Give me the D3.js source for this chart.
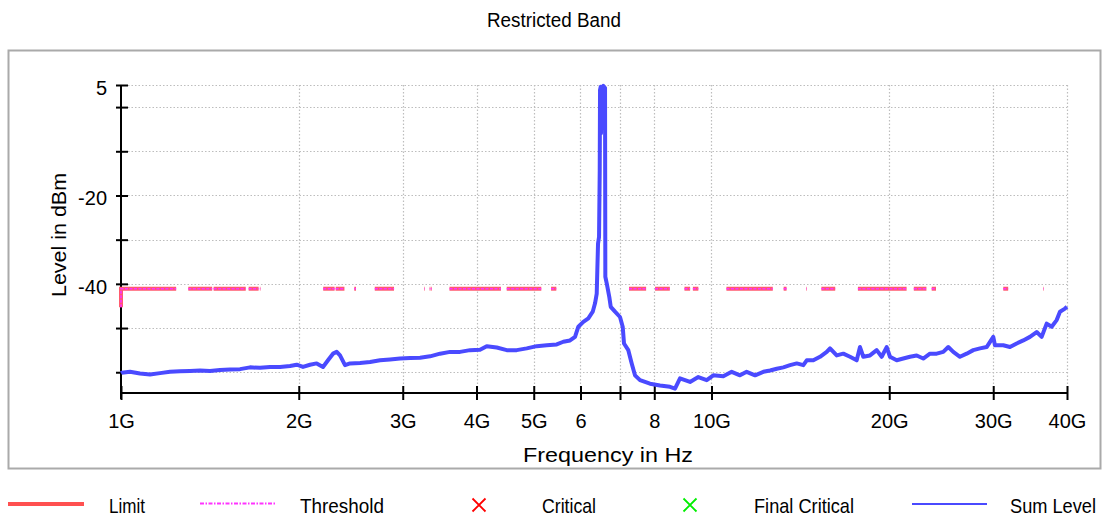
<!DOCTYPE html>
<html><head><meta charset="utf-8">
<script src="https://cdn.jsdelivr.net/npm/d3@7"></script>
<style>
body{margin:0;background:#fff;}
svg{display:block;font-family:"Liberation Sans",Arial,sans-serif;}
</style></head><body>
<svg id="chart" width="1107" height="519"></svg>
<script>
// ---- data (frequency in GHz, level in dBm) ----
const freqGHz = [1.000,1.003,1.0357,1.0769,1.1198,1.1643,1.2106,1.2586,1.3087,1.3608,1.4149,1.4712,1.5297,1.5906,1.6538,1.7196,1.7880,1.8591,1.9331,1.9841,2.0334,2.0896,2.1449,2.1983,2.2416,2.2858,2.3191,2.3491,2.3954,2.4426,2.5398,2.6408,2.7459,2.8551,2.9687,3.0867,3.2095,3.3371,3.4698,3.6078,3.7512,3.9004,4.0555,4.1628,4.3283,4.5004,4.6793,4.8654,5.0588,5.2600,5.4691,5.6115,5.7602,5.8736,5.9497,6.0668,6.1863,6.2934,6.3501,6.3923,6.4072,6.4247,6.4498,6.4675,6.4751,6.4927,6.5003,6.5181,6.5590,6.6026,6.6103,6.6465,6.7141,6.7508,6.8650,6.9995,7.0736,7.1095,7.2299,7.3262,7.4211,7.5673,7.8683,8.1812,8.5064,8.6740,8.8447,9.1964,9.4988,9.8153,10.071,10.471,10.820,11.176,11.471,11.852,12.242,12.566,12.898,13.234,13.584,13.944,14.306,14.497,14.875,15.269,15.673,15.876,16.296,16.720,17.162,17.616,17.844,18.075,18.553,19.044,19.419,19.802,20.058,20.589,21.126,21.684,22.257,22.837,23.442,24.063,24.690,25.176,25.672,26.351,27.049,27.754,28.488,29.242,30.005,30.204,31.198,32.023,32.871,33.727,34.619,35.537,36.237,36.951,37.679,38.421,38.918,39.686,40.0];
const sumLevel = [-60.2,-60.1,-59.9,-60.3,-60.5,-60.2,-59.9,-59.8,-59.7,-59.6,-59.7,-59.5,-59.4,-59.3,-58.9,-59.0,-58.8,-58.8,-58.6,-58.3,-58.8,-58.3,-58.0,-58.8,-57.3,-55.8,-55.4,-56.2,-58.4,-58.0,-57.9,-57.7,-57.3,-57.1,-56.9,-56.8,-56.7,-56.4,-55.8,-55.4,-55.4,-55.0,-54.9,-54.1,-54.4,-55.0,-55.0,-54.6,-54.1,-53.9,-53.7,-53.1,-52.8,-52.0,-49.7,-48.6,-47.8,-46.3,-44.4,-42.2,-36.9,-30.9,-29.4,-14.3,3.9,4.6,-5.9,4.3,4.8,4.3,-38.4,-39.9,-43.0,-45.2,-46.3,-47.5,-49.7,-53.5,-55.0,-58.0,-60.7,-61.8,-62.6,-63.0,-63.3,-63.7,-61.4,-62.2,-61.1,-61.8,-60.7,-60.9,-59.9,-60.7,-59.9,-60.7,-59.9,-59.6,-59.2,-58.9,-58.4,-58.0,-58.4,-57.3,-57.3,-56.5,-55.4,-54.6,-56.2,-55.8,-56.5,-57.3,-54.3,-56.5,-56.2,-55.0,-56.5,-54.3,-56.5,-57.3,-56.9,-56.5,-56.2,-56.9,-55.8,-55.8,-55.4,-54.3,-55.4,-56.5,-55.8,-55.0,-54.6,-54.3,-52.0,-53.9,-53.9,-54.3,-53.5,-52.8,-52.0,-50.9,-52.0,-49.0,-49.7,-48.2,-46.3,-45.6,-45.2];
const bandStart = [1.0,1.3,1.435,1.645,1.7188,2.2,2.31,2.4835,2.69,3.26,3.332,3.3458,3.6,4.5,5.35,7.25,8.025,9.0,9.3,10.6,13.25,14.47,15.35,17.7,22.01,23.6,31.2,36.43];
const bandStop  = [1.24,1.427,1.6265,1.71,1.7222,2.3,2.39,2.5,2.9,3.267,3.339,3.358,4.4,5.15,5.46,7.75,8.5,9.2,9.5,12.7,13.4,14.5,16.2,21.4,23.12,24.0,31.8,36.5];
const limitLevel = -41.1;
const limitEntryLevel = -45.3;
const thresholdLevel = -41.1;
const xTickValues = [1,2,3,4,5,6,7,8,10,20,30,40];
const xTickLabels = ["1G","2G","3G","4G","5G","6","","8","10G","20G","30G","40G"];
const yTickValues = [5,0,-10,-20,-30,-40,-50,-60];
const yTickLabels = ["5","","","-20","","-40","",""];
const legendLabels = ["Limit","Threshold","Critical","Final Critical","Sum Level"];

// ---- drawing ----
const svg = d3.select("#chart");
const x = d3.scaleLog().domain([1,40]).range([121,1067]);
const y = d3.scaleLinear().domain([-64.7,5]).range([393,85]);

// outer frame
svg.append("rect").attr("x",8.5).attr("y",50.5).attr("width",1092).attr("height",418)
  .attr("fill","none").attr("stroke","#aaaaaa").attr("stroke-width",2);

// title
svg.append("text").attr("x",554).attr("y",27).attr("text-anchor","middle")
  .attr("font-size",20).attr("textLength",134).attr("lengthAdjust","spacingAndGlyphs")
  .text("Restricted Band");

// grid
const grid = svg.append("g").attr("stroke","#bdbdbd").attr("stroke-width",1.2).attr("stroke-dasharray","1.5,2");
grid.selectAll("line.h").data(yTickValues).join("line").attr("class","h")
  .attr("x1",121).attr("x2",x(40)).attr("y1",d=>Math.round(y(d))+0.5).attr("y2",d=>Math.round(y(d))+0.5);
grid.selectAll("line.v").data(xTickValues.slice(1)).join("line").attr("class","v")
  .attr("x1",d=>Math.round(x(d))+0.5).attr("x2",d=>Math.round(x(d))+0.5).attr("y1",y(5)).attr("y2",y.range()[0]);

// axes
const yAxis = svg.append("g").attr("transform","translate(121,0)")
  .call(d3.axisLeft(y).tickValues(yTickValues).tickSizeOuter(0).tickFormat((d,i)=>yTickLabels[i]));
yAxis.select(".domain").remove();
yAxis.selectAll(".tick line").attr("x1",-5).attr("x2",7).attr("stroke","#000").attr("stroke-width",2);
yAxis.selectAll(".tick text").attr("x",-14).attr("dy","0.46em").attr("font-size",20)
  .attr("font-family","Liberation Sans, Arial, sans-serif").attr("fill","#000");

const xAxis = svg.append("g").attr("transform","translate(0,393)")
  .call(d3.axisBottom(x).tickValues(xTickValues).tickSizeOuter(0).tickFormat((d,i)=>xTickLabels[i]));
xAxis.select(".domain").remove();
xAxis.selectAll(".tick line").attr("y1",-7).attr("y2",7).attr("stroke","#000").attr("stroke-width",2);
xAxis.selectAll(".tick text").attr("y",35).attr("dy",0).attr("font-size",20)
  .attr("font-family","Liberation Sans, Arial, sans-serif").attr("fill","#000");

svg.append("line").attr("x1",121).attr("x2",121).attr("y1",y(5)).attr("y2",399).attr("stroke","#000").attr("stroke-width",2);
svg.append("line").attr("x1",120).attr("x2",x(40)+1).attr("y1",393).attr("y2",393).attr("stroke","#000").attr("stroke-width",2);

// axis titles
svg.append("text").attr("transform","translate(66,235) rotate(-90)").attr("text-anchor","middle")
  .attr("font-size",20).attr("textLength",124).attr("lengthAdjust","spacingAndGlyphs").text("Level in dBm");
svg.append("text").attr("x",608).attr("y",462).attr("text-anchor","middle")
  .attr("font-size",20).attr("textLength",170).attr("lengthAdjust","spacingAndGlyphs").text("Frequency in Hz");

// limit + threshold segments
const bands = bandStart.map((s,i)=>{
  const pts = [[s,limitLevel],[bandStop[i],limitLevel]];
  if(i===0) pts.unshift([s,limitEntryLevel]);
  return pts;
});
const segLine = d3.line().x(d=>x(d[0])).y(d=>y(d[1]));
svg.append("g").selectAll("path").data(bands).join("path")
  .attr("d",segLine).attr("fill","none").attr("stroke","#ff5a6e").attr("stroke-width",4);
svg.append("g").selectAll("path").data(bands.map(b=>b.map(p=>[p[0],p[1]===limitLevel?thresholdLevel:p[1]]))).join("path")
  .attr("d",segLine).attr("fill","none").attr("stroke","#ff33ff").attr("stroke-width",1.6).attr("stroke-dasharray","3,1.5");

// sum level trace
const trace = freqGHz.map((f,i)=>({f, v: sumLevel[i]}));
svg.append("path").datum(trace)
  .attr("d",d3.line().x(d=>x(d.f)).y(d=>y(d.v)))
  .attr("fill","none").attr("stroke","#4a4aff").attr("stroke-width",4).attr("stroke-linejoin","round");

// legend
const lg = svg.append("g");
lg.append("line").attr("x1",8).attr("x2",84).attr("y1",504).attr("y2",504).attr("stroke","#ff5050").attr("stroke-width",4);
lg.append("line").attr("x1",200).attr("x2",276).attr("y1",503.5).attr("y2",503.5).attr("stroke","#ff33ff").attr("stroke-width",2).attr("stroke-dasharray","4,1.5,1.5,1.5");
function cross(cx,cy,col){
  lg.append("path").attr("d",`M${cx-6.5},${cy-6.5}L${cx+6.5},${cy+6.5}M${cx+6.5},${cy-6.5}L${cx-6.5},${cy+6.5}`)
    .attr("stroke",col).attr("stroke-width",1.8).attr("fill","none");
}
cross(479,505,"#ff0000");
cross(690,505,"#00ee00");
lg.append("line").attr("x1",912).attr("x2",987).attr("y1",504).attr("y2",504).attr("stroke","#4a4aff").attr("stroke-width",2);
const legendPos = [[109,36],[300,84],[542,54],[754,100],[1010,86]];
legendLabels.forEach((t,i)=>{
  lg.append("text").attr("x",legendPos[i][0]).attr("y",513).attr("font-size",21)
    .attr("textLength",legendPos[i][1]).attr("lengthAdjust","spacingAndGlyphs").text(t);
});
</script>
</body></html>
